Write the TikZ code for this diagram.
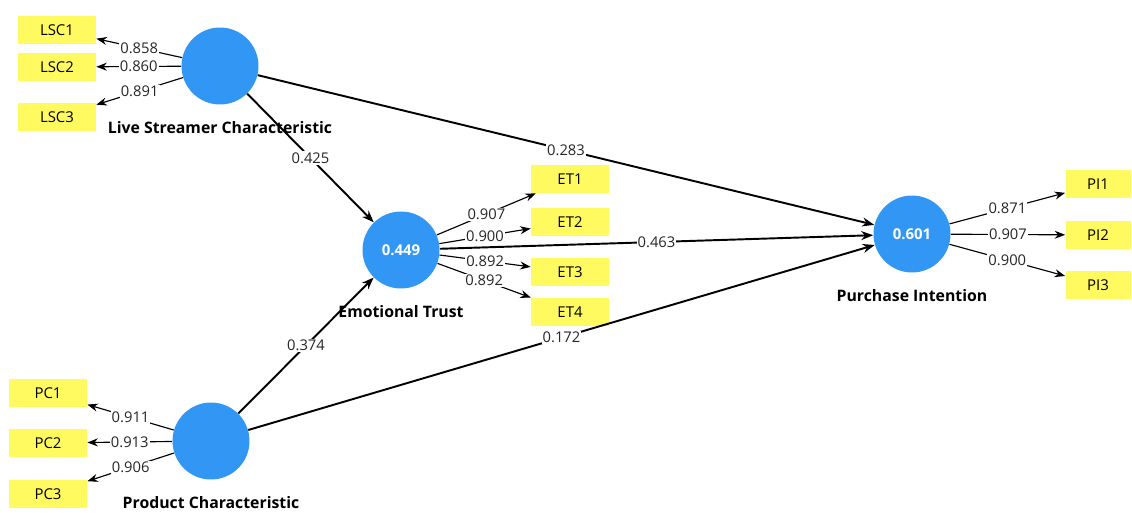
\documentclass[tikz,border=0pt]{standalone}
\usepackage{fontspec}
\setmainfont{Open Sans}
\usetikzlibrary{arrows.meta, positioning}
\definecolor{LVBlue}{RGB}{50,150,245}
\definecolor{MVYellow}{RGB}{255,250,95}

\begin{document}
\begin{tikzpicture}[x=0.02cm, y=-0.02cm, font=\fontsize{8.4}{9}\selectfont,
	lv/.style={circle, fill=LVBlue, minimum size=1.54cm, inner sep=0pt,
		text=white, font=\fontsize{8.5}{10}\selectfont\bfseries},
	lvname/.style={font=\fontsize{9}{10}\selectfont\bfseries, text=black,
		text depth=0pt, inner sep=1pt, label distance=8.5pt},
	mv/.style={rectangle, fill=MVYellow, minimum width=1.56cm,
		minimum height=0.56cm, inner sep=1pt, font=\fontsize{8.5}{10}\selectfont},
	pth/.style={-{Stealth[length=2.4mm, width=1.8mm]}, line width=1.1pt},
	ld/.style={-{Stealth[length=2.1mm, width=1.6mm]}, line width=0.65pt},
	coef/.style={fill=white, inner sep=0.6pt, text=black!85}]
	\useasboundingbox (0,0) rectangle (1132,513);
	% latent variables
	\node[lv, label={[lvname]below:Live Streamer Characteristic}] (LSC) at (220,66) {};
	\node[lv, label={[lvname]below:Emotional Trust}] (ET) at (401,250) {0.449};
	\node[lv, label={[lvname]below:Purchase Intention}] (PI) at (912,234) {0.601};
	\node[lv, label={[lvname]below:Product Characteristic}] (PC) at (211,441) {};
	% indicators
	\node[mv] (LSC1) at (57,30)  {LSC1};
	\node[mv] (LSC2) at (57,67)  {LSC2};
	\node[mv] (LSC3) at (57,117) {LSC3};
	\node[mv] (ET1) at (570,179) {ET1};
	\node[mv] (ET2) at (570,222) {ET2};
	\node[mv] (ET3) at (570,272) {ET3};
	\node[mv] (ET4) at (570,312) {ET4};
	\node[mv, minimum width=1.3cm] (PI1) at (1098,184) {PI1};
	\node[mv, minimum width=1.3cm] (PI2) at (1098,235) {PI2};
	\node[mv, minimum width=1.3cm] (PI3) at (1098,285) {PI3};
	\node[mv] (PC1) at (48,393) {PC1};
	\node[mv] (PC2) at (48,443) {PC2};
	\node[mv] (PC3) at (48,494) {PC3};
	% outer loadings
	\draw[ld] (LSC) -- node[coef] {0.858} (LSC1);
	\draw[ld] (LSC) -- node[coef] {0.860} (LSC2);
	\draw[ld] (LSC) -- node[coef] {0.891} (LSC3);
	\draw[ld] (ET) -- node[coef] {0.907} (ET1);
	\draw[ld] (ET) -- node[coef] {0.900} (ET2);
	\draw[ld] (ET) -- node[coef] {0.892} (ET3);
	\draw[ld] (ET) -- node[coef] {0.892} (ET4);
	\draw[ld] (PI) -- node[coef] {0.871} (PI1);
	\draw[ld] (PI) -- node[coef] {0.907} (PI2);
	\draw[ld] (PI) -- node[coef] {0.900} (PI3);
	\draw[ld] (PC) -- node[coef] {0.911} (PC1);
	\draw[ld] (PC) -- node[coef] {0.913} (PC2);
	\draw[ld] (PC) -- node[coef] {0.906} (PC3);
	% path coefficients
	\draw[pth] (LSC) -- node[coef] {0.425} (ET);
	\draw[pth] (LSC) -- node[coef] {0.283} (PI);
	\draw[pth] (ET) -- node[coef] {0.463} (PI);
	\draw[pth] (PC) -- node[coef] {0.374} (ET);
	\draw[pth] (PC) -- node[coef] {0.172} (PI);
\end{tikzpicture}
\end{document}
